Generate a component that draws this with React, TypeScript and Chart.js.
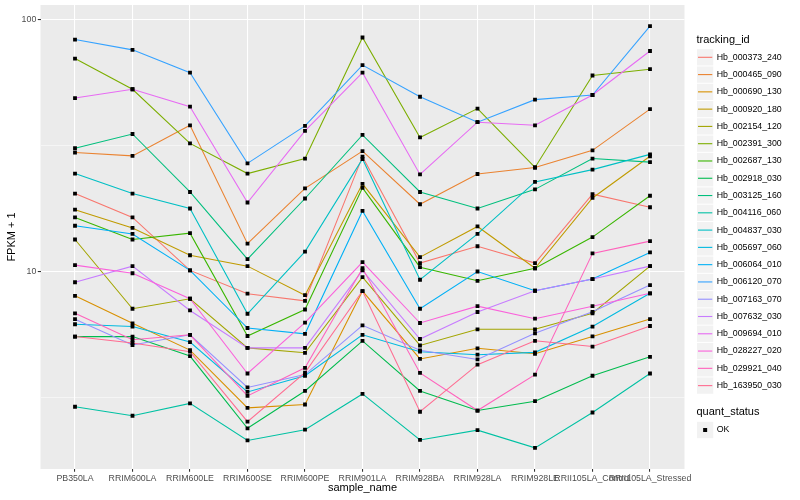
import React, { useEffect, useRef } from "react";
import { Chart, registerables } from "chart.js";

Chart.register(...registerables);

const FONT = "'Liberation Sans', Arial, Helvetica, sans-serif";

const categories = [
  "PB350LA",
  "RRIM600LA",
  "RRIM600LE",
  "RRIM600SE",
  "RRIM600PE",
  "RRIM901LA",
  "RRIM928BA",
  "RRIM928LA",
  "RRIM928LE",
  "RRII105LA_Control",
  "RRII105LA_Stressed",
];

const seriesNames = [
  "Hb_000373_240",
  "Hb_000465_090",
  "Hb_000690_130",
  "Hb_000920_180",
  "Hb_002154_120",
  "Hb_002391_300",
  "Hb_002687_130",
  "Hb_002918_030",
  "Hb_003125_160",
  "Hb_004116_060",
  "Hb_004837_030",
  "Hb_005697_060",
  "Hb_006064_010",
  "Hb_006120_070",
  "Hb_007163_070",
  "Hb_007632_030",
  "Hb_009694_010",
  "Hb_028227_020",
  "Hb_029921_040",
  "Hb_163950_030",
];

const seriesColors = [
  "#F8766D", "#EA8331", "#D89000", "#C09B00", "#A3A500",
  "#7CAE00", "#39B600", "#00BB4E", "#00BF7D", "#00C1A3",
  "#00BFC4", "#00BAE0", "#00B0F6", "#35A2FF", "#9590FF",
  "#C77CFF", "#E76BF3", "#FA62DB", "#FF62BC", "#FF6C91",
];

const hb_000373_240 = [20.4, 16.4, 10.1, 8.16, 7.64, 28.6, 10.8, 12.6, 10.8, 20.3, 18.0];
const hb_000465_090 = [29.7, 28.8, 38.1, 12.9, 21.4, 30.1, 18.5, 24.4, 25.9, 30.3, 44.2];
const hb_000690_130 = [8.0, 6.22, 4.87, 2.87, 2.96, 8.36, 4.49, 4.95, 4.71, 5.52, 6.47];
const hb_000920_180 = [17.6, 14.9, 11.6, 10.5, 8.05, 22.3, 11.4, 15.1, 10.3, 19.6, 28.7];
const hb_002154_120 = [13.4, 7.11, 7.79, 4.97, 4.75, 9.5, 5.08, 5.89, 5.89, 6.82, 10.5];
const hb_002391_300 = [70.2, 53.0, 32.3, 24.5, 28.1, 85.1, 34.1, 44.4, 25.9, 60.1, 63.7];
const hb_002687_130 = [16.4, 13.4, 14.2, 5.54, 7.06, 21.5, 10.4, 9.18, 10.3, 13.7, 20.0];
const hb_002918_030 = [5.51, 5.51, 4.61, 2.38, 3.35, 5.3, 3.35, 2.8, 3.05, 3.85, 4.58];
const hb_003125_160 = [30.9, 35.2, 20.7, 11.2, 19.5, 34.9, 20.7, 17.8, 21.2, 28.1, 27.2];
const hb_004116_060 = [2.9, 2.67, 2.99, 2.13, 2.35, 3.26, 2.14, 2.34, 1.99, 2.75, 3.93];
const hb_004837_030 = [24.5, 20.4, 17.8, 6.79, 12.0, 28.0, 9.27, 14.1, 22.7, 25.4, 29.2];
const hb_005697_060 = [6.17, 6.04, 5.24, 3.32, 3.85, 5.6, 4.8, 4.67, 4.77, 6.04, 8.19];
const hb_006064_010 = [15.2, 14.1, 10.1, 5.96, 5.65, 17.4, 7.11, 10.0, 8.38, 9.33, 11.9];
const hb_006120_070 = [83.5, 76.0, 61.7, 26.9, 37.9, 66.1, 49.5, 39.2, 48.2, 50.3, 94.4];
const hb_007163_070 = [6.46, 5.1, 5.6, 3.46, 3.89, 6.11, 4.86, 4.47, 5.68, 6.91, 8.83];
const hb_007632_030 = [9.06, 10.5, 7.0, 4.97, 4.97, 10.1, 5.39, 6.9, 8.38, 9.33, 10.5];
const hb_009694_010 = [48.9, 53.0, 45.2, 18.8, 36.2, 61.7, 24.3, 39.2, 38.1, 50.3, 75.2];
const hb_028227_020 = [10.6, 9.84, 7.79, 3.93, 6.26, 10.9, 6.24, 7.28, 6.49, 7.28, 8.19];
const hb_029921_040 = [6.82, 5.35, 5.6, 3.2, 4.14, 10.3, 3.95, 2.8, 3.89, 11.8, 13.2];
const hb_163950_030 = [5.51, 5.2, 4.8, 2.53, 3.96, 8.36, 2.77, 4.26, 5.3, 5.03, 6.07];

const seriesValues = [
  hb_000373_240, hb_000465_090, hb_000690_130, hb_000920_180, hb_002154_120,
  hb_002391_300, hb_002687_130, hb_002918_030, hb_003125_160, hb_004116_060,
  hb_004837_030, hb_005697_060, hb_006064_010, hb_006120_070, hb_007163_070,
  hb_007632_030, hb_009694_010, hb_028227_020, hb_029921_040, hb_163950_030,
];

const yGridValues = [3.1623, 10, 31.623, 100];
const yMajorTicks = [10, 100];
const xTitle = "sample_name";
const yTitle = "FPKM + 1";
const colorLegendTitle = "tracking_id";
const shapeLegendTitle = "quant_status";
const shapeLabels = ["OK"];

const panelBackground = {
  id: "panelBackground",
  beforeDraw(chart: any) {
    const { ctx, chartArea } = chart;
    ctx.save();
    ctx.fillStyle = "#EBEBEB";
    ctx.fillRect(chartArea.left, chartArea.top, chartArea.right - chartArea.left, chartArea.bottom - chartArea.top);
    ctx.restore();
  },
};

const ggLegend = {
  id: "ggLegend",
  afterDraw(chart: any) {
    const ctx = chart.ctx as CanvasRenderingContext2D;
    const key = 17.28;
    const x0 = 696.5;
    const firstCenter = 57.3;
    ctx.save();
    ctx.textAlign = "left";
    ctx.textBaseline = "middle";
    ctx.fillStyle = "#000000";
    ctx.font = `11px ${FONT}`;
    ctx.fillText(colorLegendTitle, x0, 39.5);
    const lineSets = chart.data.datasets.filter((d: any) => d.showLine !== false);
    lineSets.forEach((ds: any, i: number) => {
      const cy = firstCenter + i * key;
      ctx.fillStyle = "#F2F2F2";
      ctx.fillRect(x0 + 0.5, cy - key / 2 + 0.5, key - 1, key - 1);
      ctx.strokeStyle = ds.borderColor;
      ctx.lineWidth = 1.1;
      ctx.beginPath();
      ctx.moveTo(x0 + 1.5, cy);
      ctx.lineTo(x0 + key - 1.5, cy);
      ctx.stroke();
      ctx.fillStyle = "#000000";
      ctx.font = `8.8px ${FONT}`;
      ctx.fillText(ds.label, x0 + key + 2.9, cy);
    });
    ctx.font = `11px ${FONT}`;
    ctx.fillStyle = "#000000";
    ctx.fillText(shapeLegendTitle, x0, 411.7);
    shapeLabels.forEach((lab, i) => {
      const cy = 430 + i * key;
      ctx.fillStyle = "#F2F2F2";
      ctx.fillRect(x0 + 0.5, cy - key / 2 + 0.5, key - 1, key - 1);
      ctx.fillStyle = "#000000";
      ctx.fillRect(x0 + key / 2 - 2, cy - 2, 4, 4);
      ctx.font = `8.8px ${FONT}`;
      ctx.fillText(lab, x0 + key + 2.9, cy);
    });
    ctx.restore();
  },
};

export default function App() {
  const canvasRef = useRef<HTMLCanvasElement | null>(null);

  useEffect(() => {
    if (!canvasRef.current) return;
    const lineDatasets = seriesValues.map((vals, i) => ({
      label: seriesNames[i],
      data: vals.map((v, j) => ({ x: j, y: v })),
      borderColor: seriesColors[i],
      backgroundColor: seriesColors[i],
      borderWidth: 1.07,
      pointRadius: 0,
      pointHoverRadius: 0,
      fill: false,
      tension: 0,
      order: 100 - i,
    }));
    const pointDatasets = seriesValues.map((vals, i) => ({
      label: shapeLabels[0],
      data: vals.map((v, j) => ({ x: j, y: v })),
      showLine: false,
      pointStyle: "rect",
      pointRadius: 2.7,
      pointBackgroundColor: "#000000",
      pointBorderColor: "#000000",
      pointBorderWidth: 0,
      borderColor: "#000000",
      backgroundColor: "#000000",
      order: 0,
    }));

    const chart = new Chart(canvasRef.current, {
      type: "line",
      data: { datasets: [...lineDatasets, ...pointDatasets] as any },
      plugins: [panelBackground, ggLegend],
      options: {
        animation: false,
        responsive: false,
        events: [],
        layout: { padding: { left: 0, right: 115.5, top: 5, bottom: 0 } },
        plugins: { legend: { display: false }, tooltip: { enabled: false } },
        scales: {
          x: {
            type: "linear",
            min: -0.6,
            max: categories.length - 1 + 0.6,
            afterBuildTicks: (s: any) => {
              s.ticks = categories.map((_, i) => ({ value: i }));
            },
            afterFit: (s: any) => {
              s.height = 31;
              s.paddingLeft = 0;
              s.paddingRight = 0;
            },
            ticks: {
              autoSkip: false,
              maxRotation: 0,
              minRotation: 0,
              color: "#4D4D4D",
              font: { family: FONT, size: 8.8, lineHeight: 1 },
              padding: 2,
              callback: (v: any) => categories[v] ?? "",
            },
            grid: {
              color: "#FFFFFF",
              lineWidth: 1.07,
              drawTicks: true,
              tickLength: 2.7,
              tickColor: "#333333",
              tickWidth: 1.07,
            },
            border: { display: false },
            title: {
              display: true,
              text: xTitle,
              color: "#000000",
              font: { family: FONT, size: 11, lineHeight: 1.2 },
              padding: { top: 0, bottom: 5.4 },
            },
          },
          y: {
            type: "logarithmic",
            min: 1.64,
            max: 114.6,
            afterBuildTicks: (s: any) => {
              s.ticks = yGridValues.map((v) => ({ value: v, major: false }));
            },
            afterFit: (s: any) => {
              s.width = 40.5;
              s.paddingTop = 0;
              s.paddingBottom = 0;
            },
            ticks: {
              autoSkip: false,
              color: "#4D4D4D",
              font: { family: FONT, size: 8.8, lineHeight: 1 },
              padding: 1.5,
              callback: (v: any) => (yMajorTicks.includes(v) ? String(v) : ""),
            },
            grid: {
              color: "#FFFFFF",
              lineWidth: (c: any) => (c.tick && yMajorTicks.includes(c.tick.value) ? 1.07 : 0.53),
              drawTicks: true,
              tickLength: 2.7,
              tickColor: (c: any) => (c.tick && yMajorTicks.includes(c.tick.value) ? "#333333" : "rgba(0,0,0,0)"),
              tickWidth: 1.07,
            },
            border: { display: false },
            title: {
              display: true,
              text: yTitle,
              color: "#000000",
              font: { family: FONT, size: 11, lineHeight: 1.2 },
              padding: { top: 5.4, bottom: 0 },
            },
          },
        },
      } as any,
    });
    return () => chart.destroy();
  }, []);

  return (
    <div style={{ position: "fixed", left: 0, top: 0, width: 800, height: 500, background: "#FFFFFF" }}>
      <canvas ref={canvasRef} width={800} height={500} style={{ display: "block", width: 800, height: 500 }} />
    </div>
  );
}
